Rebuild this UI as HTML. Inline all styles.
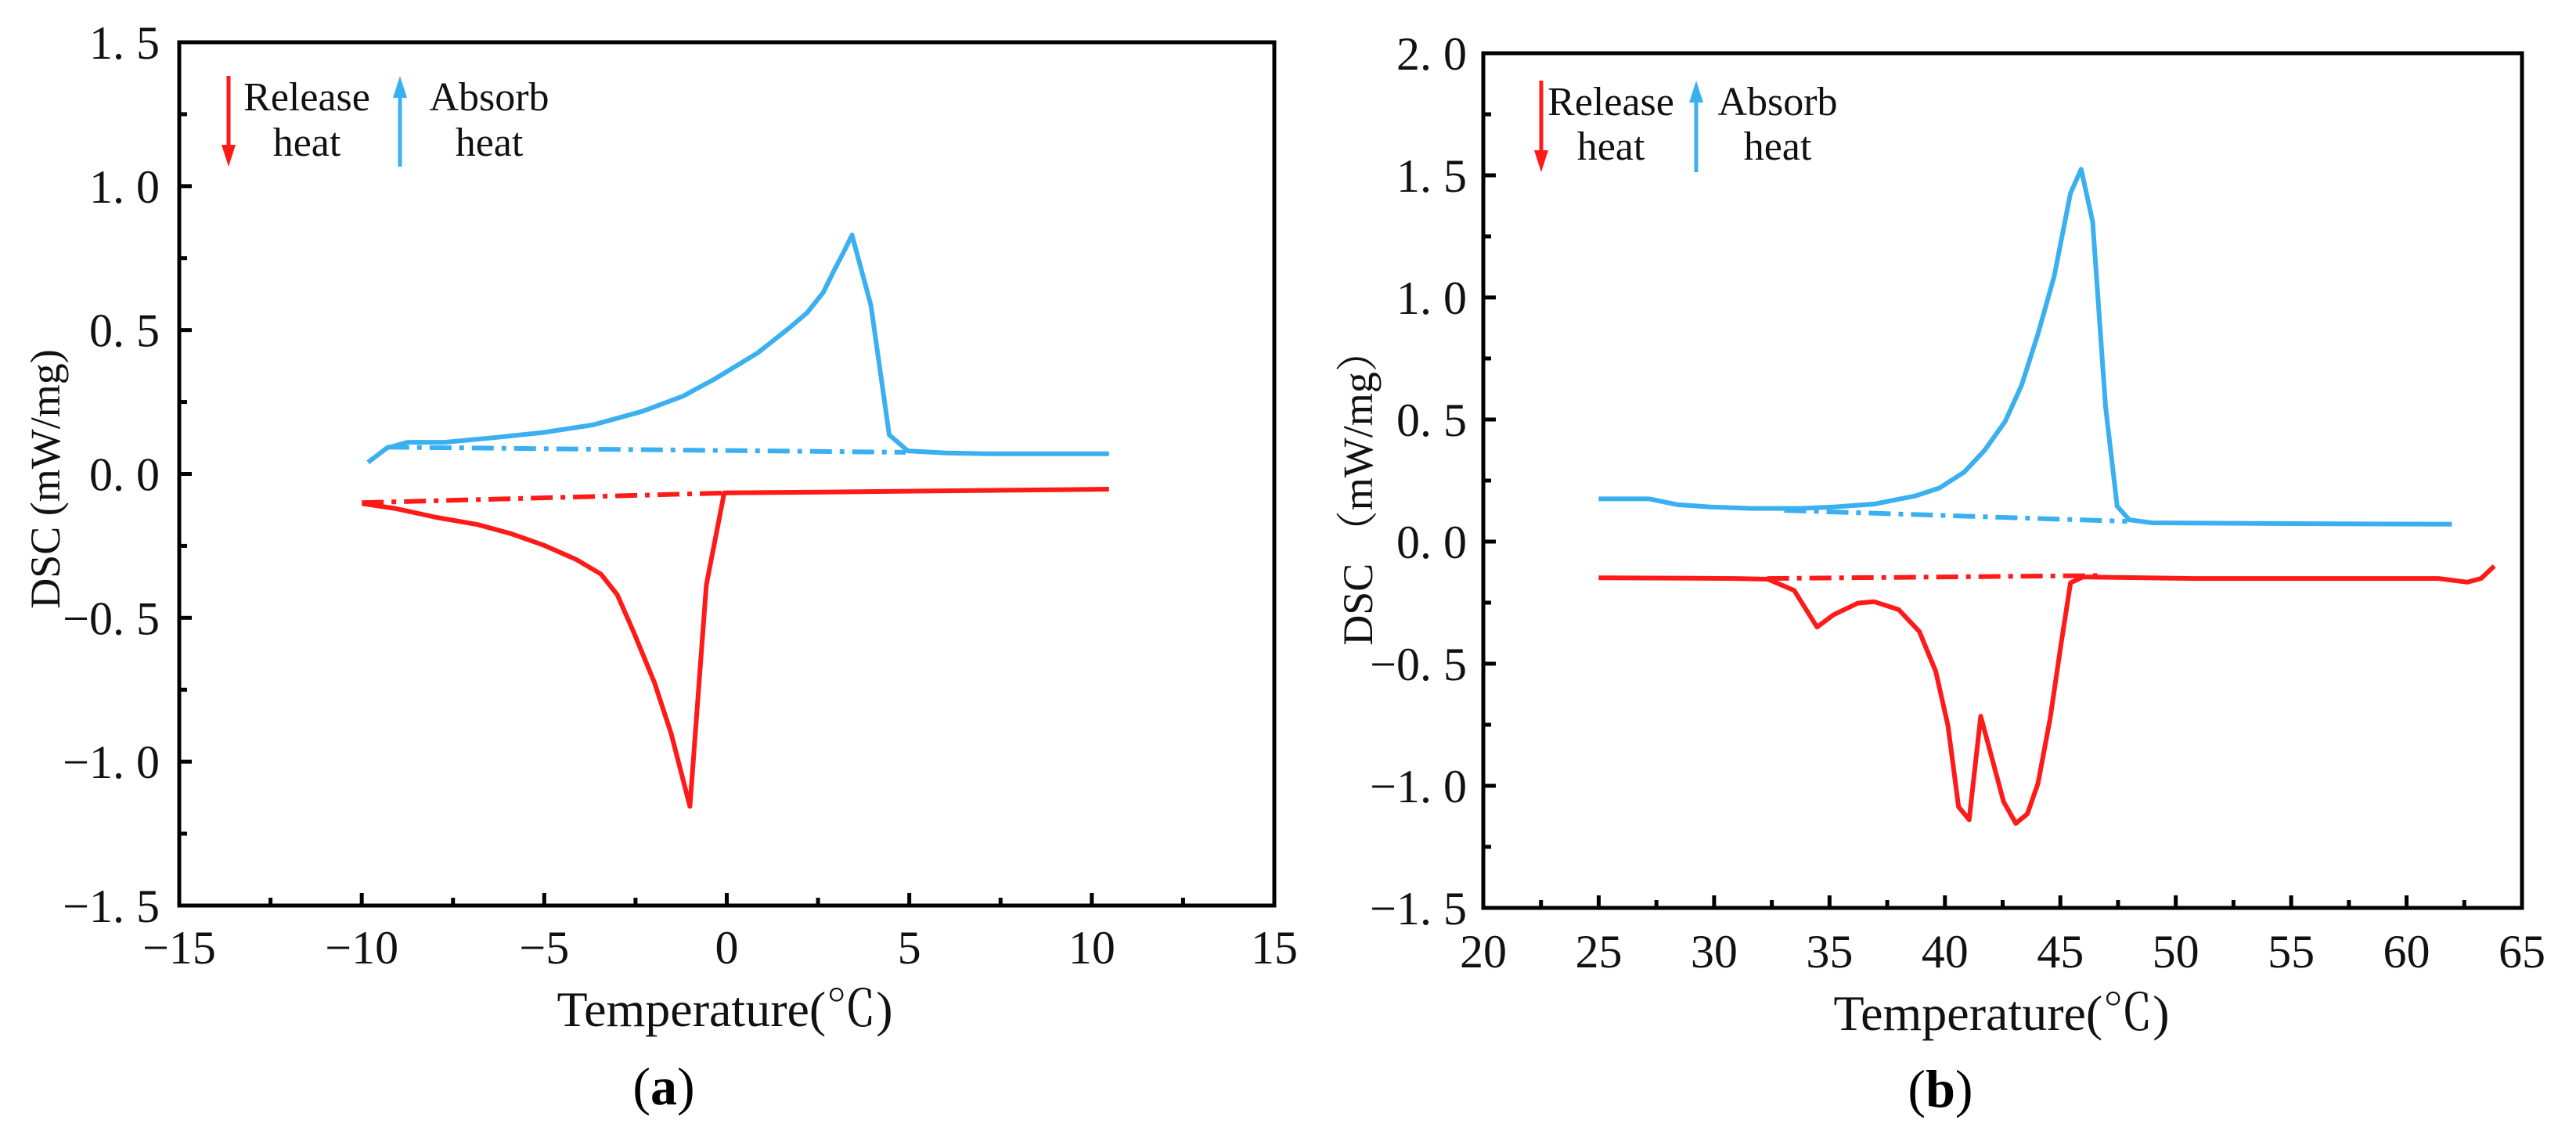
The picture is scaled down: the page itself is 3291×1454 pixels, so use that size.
<!DOCTYPE html>
<html><head><meta charset="utf-8">
<style>
html,body{margin:0;padding:0;background:#fff;}
svg{display:block;font-family:"Liberation Serif","Noto Serif CJK SC",serif;}
</style></head>
<body>
<svg id="fig" width="3291" height="1454" viewBox="0 0 3291 1454" xmlns="http://www.w3.org/2000/svg"></svg>
<script>
// ---- Panel (a) data ----
const aBlueX = [-9.83,-9.31,-8.75,-7.74,-6.38,-5.03,-3.68,-2.32,-1.2,-0.29,0.84,1.74,2.2,2.64,2.95,3.2,3.43,3.95,4.45,4.96,6.02,7.15,10.47];
const aBlueY = [0.04,0.09,0.11,0.11,0.126,0.144,0.17,0.217,0.27,0.333,0.42,0.51,0.56,0.63,0.71,0.77,0.83,0.585,0.136,0.08,0.073,0.07,0.07];
const aBlueBaseX = [-9.3,4.9];
const aBlueBaseY = [0.093,0.075];
const aRedX = [-9.99,-9.09,-7.96,-6.83,-5.93,-5.03,-4.13,-3.45,-3.0,-2.55,-1.98,-1.53,-1.01,-0.56,-0.07,2.64,10.47];
const aRedY = [-0.103,-0.12,-0.151,-0.176,-0.207,-0.247,-0.297,-0.348,-0.42,-0.55,-0.726,-0.9,-1.155,-0.386,-0.066,-0.063,-0.053];
const aRedBaseX = [-10,0];
const aRedBaseY = [-0.10,-0.066];
const aXTicks = [-15,-10,-5,0,5,10,15];
const aXTickLabels = ["\u221215","\u221210","\u22125","0","5","10","15"];
const aYTicks = [-1.5,-1,-0.5,0,0.5,1,1.5];
const aYTickLabels = ["\u22121. 5","\u22121. 0","\u22120. 5","0. 0","0. 5","1. 0","1. 5"];

// ---- Panel (b) data ----
const bBlueX = [25.0,27.19,28.43,29.85,31.62,33.75,35.17,36.94,38.71,39.77,40.84,41.72,42.61,43.32,44.03,44.73,45.44,45.9,46.4,46.96,47.46,47.99,48.98,54.3,61.96];
const bBlueY = [0.175,0.175,0.151,0.142,0.136,0.136,0.142,0.154,0.187,0.22,0.285,0.374,0.492,0.64,0.85,1.086,1.427,1.525,1.31,0.552,0.145,0.089,0.077,0.074,0.071];
const bBlueBaseX = [33.04,47.9];
const bBlueBaseY = [0.128,0.083];
const bRedX = [25,30.9,32.33,33.47,34.46,35.17,36.23,36.94,38.0,38.89,39.6,40.13,40.59,41.05,41.55,42.08,42.54,43.07,43.57,44.03,44.56,45.02,45.44,45.98,50.76,54.3,61.39,62.63,63.23,63.8];
const bRedY = [-0.148,-0.151,-0.154,-0.2,-0.35,-0.3,-0.252,-0.246,-0.279,-0.368,-0.531,-0.753,-1.086,-1.139,-0.715,-0.902,-1.065,-1.154,-1.115,-0.991,-0.724,-0.427,-0.169,-0.145,-0.151,-0.151,-0.151,-0.166,-0.151,-0.1];
const bRedBaseX = [32.3,46.7];
const bRedBaseY = [-0.151,-0.139];
const bXTicks = [20,25,30,35,40,45,50,55,60,65];
const bXTickLabels = ["20","25","30","35","40","45","50","55","60","65"];
const bYTicks = [-1.5,-1,-0.5,0,0.5,1,1.5,2];
const bYTickLabels = ["\u22121. 5","\u22121. 0","\u22120. 5","0. 0","0. 5","1. 0","1. 5","2. 0"];

const NS = "http://www.w3.org/2000/svg";
const svg = document.getElementById('fig');
function mk(tag, attrs, parent){
  const e = document.createElementNS(NS, tag);
  for (const k in attrs) e.setAttribute(k, attrs[k]);
  (parent||svg).appendChild(e);
  return e;
}
const BLUE = "#3bb0f0", RED = "#ff1a1a";

function panel(cfg){
  const g = mk('g', {});
  
  
  const sx = v => cfg.L + (v - cfg.xmin) / (cfg.xmax - cfg.xmin) * (cfg.R - cfg.L);
  const sy = v => cfg.B - (v - cfg.ymin) / (cfg.ymax - cfg.ymin) * (cfg.B - cfg.T);

  for (let v = cfg.xmin; v <= cfg.xmax + 1e-9; v += cfg.xminor) {
    const major = Math.abs(Math.round(v / cfg.xmajor) * cfg.xmajor - v) < 1e-6;
    const t = mk('line', {x1: sx(v), x2: sx(v), y1: cfg.B, y2: cfg.B - (major ? 16 : 10), stroke: '#000', 'stroke-width': 5}, g);
    
    
  }
  for (let v = cfg.ymin; v <= cfg.ymax + 1e-9; v += cfg.yminor) {
    const major = Math.abs(Math.round(v / cfg.ymajor) * cfg.ymajor - v) < 1e-6;
    const t = mk('line', {x1: cfg.L, x2: cfg.L + (major ? 16 : 10), y1: sy(v), y2: sy(v), stroke: '#000', 'stroke-width': 5}, g);
    
    
  }
  const box = mk('rect', {x: cfg.L, y: cfg.T, width: cfg.R - cfg.L, height: cfg.B - cfg.T, fill: 'none', stroke: '#000', 'stroke-width': 5}, g);
  
  

  cfg.xt.forEach((v, i) => {
    const t = mk('text', {x: sx(v), y: cfg.xLabY, 'font-size': 60, 'text-anchor': 'middle', fill: '#111'}, g);
    t.textContent = cfg.xtl[i];
    
    
  });
  cfg.yt.forEach((v, i) => {
    const t = mk('text', {x: cfg.yLabX, y: sy(v) + 21, 'font-size': 60, 'text-anchor': 'end', fill: '#111'}, g);
    t.textContent = cfg.ytl[i];
    
    
  });

  function series(xs, ys, color, dashed, name){
    const d = xs.map((x, i) => (i ? 'L' : 'M') + sx(x).toFixed(1) + ' ' + sy(ys[i]).toFixed(1)).join(' ');
    const p = mk('path', {d: d, fill: 'none', stroke: color, 'stroke-width': 6, 'stroke-linejoin': 'round'}, g);
    if (dashed) p.setAttribute('stroke-dasharray', '28 10 6 10');
    
    
  }
  series(cfg.bbx, cfg.bby, BLUE, true, 'heating-baseline');
  series(cfg.rbx, cfg.rby, RED, true, 'cooling-baseline');
  series(cfg.bx, cfg.by, BLUE, false, 'heating-curve');
  series(cfg.rx, cfg.ry, RED, false, 'cooling-curve');

  const lg = mk('g', {}, g);
  
  
  const ra = cfg.redArrowX, top = cfg.legTop, bot = cfg.legBot;
  mk('line', {x1: ra, x2: ra, y1: top, y2: bot - 22, stroke: RED, 'stroke-width': 5}, lg);
  const rh = mk('polygon', {points: `${ra-9},${bot-28} ${ra+9},${bot-28} ${ra},${bot}`, fill: RED}, lg);
  
  
  const ba = cfg.blueArrowX;
  mk('line', {x1: ba, x2: ba, y1: top + 22, y2: bot, stroke: BLUE, 'stroke-width': 5}, lg);
  const bh = mk('polygon', {points: `${ba-9},${top+28} ${ba+9},${top+28} ${ba},${top}`, fill: BLUE}, lg);
  
  
  [['Release', cfg.relX, cfg.l1], ['heat', cfg.relX, cfg.l2], ['Absorb', cfg.absX, cfg.l1], ['heat', cfg.absX, cfg.l2]].forEach(a => {
    const t = mk('text', {x: a[1], y: a[2], 'font-size': 52, 'text-anchor': 'middle', fill: '#111'}, lg);
    t.textContent = a[0];
    
    
  });

  const xt = mk('text', {x: cfg.xTitleX, y: cfg.xTitleY, 'font-size': 64, 'text-anchor': 'middle', fill: '#111'}, g);
  xt.textContent = 'Temperature(\u2103)';
  
  
  const yt = mk('text', {x: 0, y: 0, 'font-size': 54, 'text-anchor': 'middle', fill: '#111', transform: `translate(${cfg.yTitleX},${cfg.yTitleY}) rotate(-90)`}, g);
  yt.textContent = cfg.ytitle;
  
  
  const cap = mk('text', {x: cfg.capX, y: cfg.capY, 'font-size': 68, 'text-anchor': 'middle', fill: '#000'}, g);
  cap.innerHTML = '(<tspan font-weight="bold">' + cfg.cap + '</tspan>)';
  
  
}

panel({name: 'panel-a', L: 229, R: 1628, T: 54, B: 1157, xmin: -15, xmax: 15, ymin: -1.5, ymax: 1.5,
  xminor: 2.5, xmajor: 5, yminor: 0.25, ymajor: 0.5,
  xt: aXTicks, xtl: aXTickLabels, yt: aYTicks, ytl: aYTickLabels, xLabY: 1231, yLabX: 204,
  bx: aBlueX, by: aBlueY, bbx: aBlueBaseX, bby: aBlueBaseY, rx: aRedX, ry: aRedY, rbx: aRedBaseX, rby: aRedBaseY,
  redArrowX: 292, blueArrowX: 511, legTop: 97, legBot: 213, relX: 392, absX: 625, l1: 141, l2: 199,
  xTitleX: 926, xTitleY: 1311, yTitleX: 76, yTitleY: 612, ytitle: 'DSC (mW/mg)', capX: 848, capY: 1411, cap: 'a'});

panel({name: 'panel-b', L: 1895, R: 3222, T: 68, B: 1160, xmin: 20, xmax: 65, ymin: -1.5, ymax: 2,
  xminor: 2.5, xmajor: 5, yminor: 0.25, ymajor: 0.5,
  xt: bXTicks, xtl: bXTickLabels, yt: bYTicks, ytl: bYTickLabels, xLabY: 1236, yLabX: 1874,
  bx: bBlueX, by: bBlueY, bbx: bBlueBaseX, bby: bBlueBaseY, rx: bRedX, ry: bRedY, rbx: bRedBaseX, rby: bRedBaseY,
  redArrowX: 1969, blueArrowX: 2167, legTop: 103, legBot: 220, relX: 2058, absX: 2271, l1: 147, l2: 204,
  xTitleX: 2557, xTitleY: 1316, yTitleX: 1753, yTitleY: 623, ytitle: 'DSC \uff08mW/mg\uff09', capX: 2479, capY: 1414, cap: 'b'});
</script>
</body></html>
